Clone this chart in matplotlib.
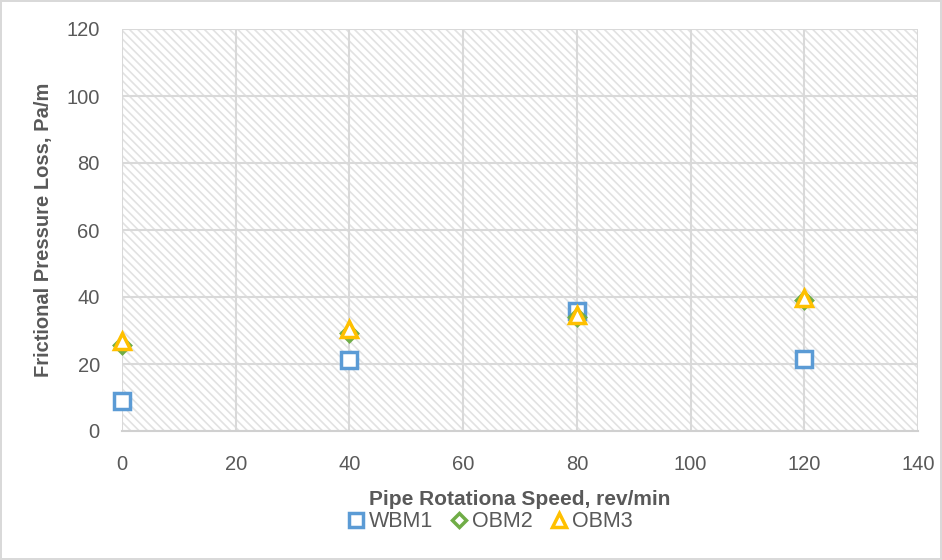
import matplotlib
matplotlib.use("Agg")
import matplotlib.pyplot as plt
from matplotlib.patches import Rectangle

speed = [0, 40, 80, 120]
wbm1 = [9.0, 21.2, 35.8, 21.5]
obm2 = [25.6, 29.2, 34.0, 39.0]
obm3 = [26.9, 30.4, 34.6, 39.7]

series = [
    ("WBM1", wbm1, "s", "#5b9bd5", 11),
    ("OBM2", obm2, "D", "#70ad47", 8),
    ("OBM3", obm3, "^", "#ffc000", 11),
]

xticks = [0, 20, 40, 60, 80, 100, 120, 140]
yticks = [0, 20, 40, 60, 80, 100, 120]

plt.rcParams['font.family'] = ['Liberation Sans', 'DejaVu Sans']
plt.rcParams['hatch.color'] = '#e2e2e2'
plt.rcParams['hatch.linewidth'] = 1.2

fig = plt.figure(figsize=(9.42, 5.6), dpi=100)
fig.patch.set_edgecolor('#d9d9d9')
fig.patch.set_linewidth(1.5)
ax = fig.add_axes([122 / 942, 1 - 431 / 560, (918 - 122) / 942, (431 - 29) / 560])

ax.set_xlim(0, 140)
ax.set_ylim(0, 120)

# hatched plot area
bg = Rectangle((0, 0), 1, 1, transform=ax.transAxes, facecolor='white',
               edgecolor='#e2e2e2', linewidth=0, hatch='\\\\\\\\', zorder=0.5)
ax.add_patch(bg)

ax.set_xticks(xticks)
ax.set_yticks(yticks)
ax.grid(color='#d9d9d9', linewidth=1.5, zorder=1)
ax.set_axisbelow(True)
for s in ['top', 'right', 'left']:
    ax.spines[s].set_visible(False)
ax.spines['bottom'].set_color('#d0d0d0')
ax.spines['bottom'].set_linewidth(1.5)
ax.tick_params(length=0, labelsize=14.5, labelcolor='#595959')
ax.tick_params(axis='x', pad=17)
ax.tick_params(axis='y', pad=16)

for name, vals, mk, col, ms in series:
    ax.plot(speed, vals, linestyle='none', marker=mk, markersize=ms,
            markerfacecolor='white', markeredgecolor=col, markeredgewidth=2.5,
            label=name, zorder=3, clip_on=False)

ax.set_xlabel('Pipe Rotationa Speed, rev/min', fontsize=15, fontweight='bold',
              color='#595959', labelpad=12)
ax.set_ylabel('Frictional Pressure Loss, Pa/m', fontsize=14.5, fontweight='bold',
              color='#595959', labelpad=10)

leg = fig.legend(loc='center', bbox_to_anchor=(0.518, 0.068), ncol=3,
                 frameon=False, fontsize=15.5, handletextpad=0.0,
                 columnspacing=0.6, markerscale=0.95, handlelength=1.2)
for t in leg.get_texts():
    t.set_color('#595959')

fig.savefig('out.png', dpi=100)
